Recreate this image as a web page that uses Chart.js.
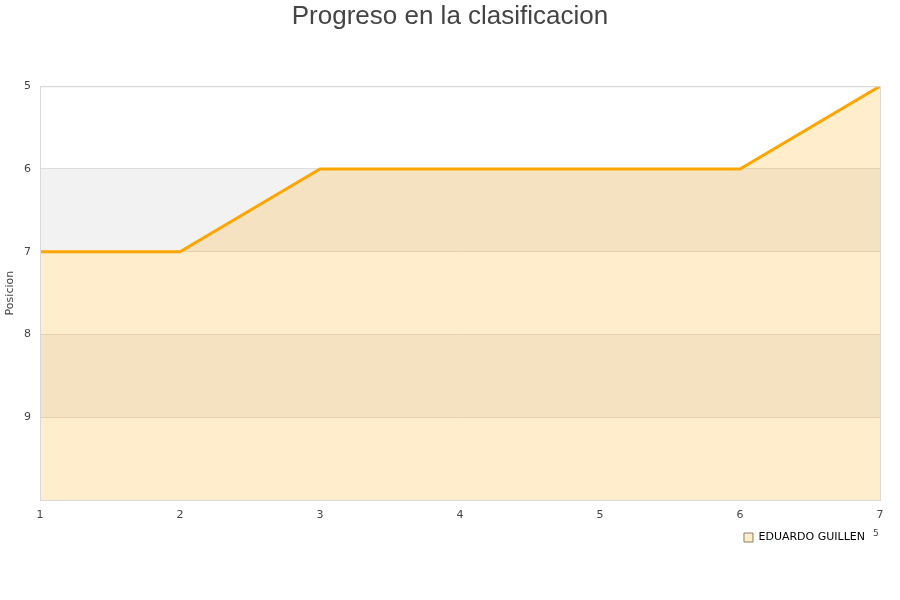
<!DOCTYPE html>
<html>
<head>
<meta charset="utf-8">
<script src="https://cdn.jsdelivr.net/npm/chart.js@4/dist/chart.umd.min.js"></script>
<style>
  html, body { margin: 0; padding: 0; background: #fff; }
  #wrap { width: 900px; height: 600px; }
</style>
</head>
<body>
<div id="wrap"><canvas id="chart" width="900" height="600"></canvas></div>
<script>
const rondas = ['1', '2', '3', '4', '5', '6', '7'];
const posiciones = [7, 7, 6, 6, 6, 6, 5];
const jugador = 'EDUARDO GUILLEN';
const bandas = [[6, 7], [8, 9]];

const bandPlugin = {
    id: 'bands',
    afterLayout(chart) {
        // legend sits a bit left of the canvas edge
        chart.legend.right -= 25;
        chart.legend.left -= 25;
    },
    beforeDraw(chart) {
        const { ctx, chartArea, scales } = chart;
        ctx.save();
        ctx.fillStyle = '#f2f2f2';
        bandas.forEach(([a, b]) => {
            const y1 = scales.y.getPixelForValue(a);
            const y2 = scales.y.getPixelForValue(b);
            ctx.fillRect(chartArea.left, y1, chartArea.right - chartArea.left, y2 - y1);
        });
        ctx.restore();
    },
    afterDraw(chart) {
        const { ctx, chartArea } = chart;
        ctx.save();
        ctx.strokeStyle = '#d9d9d9';
        ctx.lineWidth = 1;
        ctx.strokeRect(chartArea.left + 0.5, chartArea.top + 0.5,
            chartArea.right - chartArea.left, chartArea.bottom - chartArea.top);
        ctx.fillStyle = '#444';
        ctx.font = '9px "DejaVu Sans"';
        ctx.fillText('5', 873, 534);
        ctx.restore();
    }
};

new Chart(document.getElementById('chart').getContext('2d'), {
    type: 'line',
    data: {
        labels: rondas,
        datasets: [{
            label: jugador,
            data: posiciones,
            borderColor: '#FFA500',
            backgroundColor: 'rgba(255,165,0,0.2)',
            borderWidth: 3,
            pointRadius: 0,
            tension: 0,
            fill: 'start'
        }]
    },
    options: {
        responsive: false,
        animation: false,
        layout: { padding: { left: 0, right: 0, top: 0, bottom: 47 } },
        plugins: {
            title: {
                display: true,
                text: 'Progreso en la clasificacion',
                color: '#444',
                font: { family: '"Liberation Sans", Arial, sans-serif', size: 26, weight: 'normal' },
                padding: { top: 1, bottom: 54 }
            },
            legend: {
                position: 'bottom',
                align: 'end',
                labels: {
                    boxWidth: 9,
                    boxHeight: 9,
                    color: '#000',
                    font: { family: '"DejaVu Sans"', size: 11 },
                    generateLabels: chart => chart.data.datasets.map((ds, i) => ({
                        text: ds.label,
                        fillStyle: 'rgba(255,165,0,0.2)',
                        strokeStyle: '#8c7d66',
                        lineWidth: 1,
                        datasetIndex: i
                    }))
                }
            },
            tooltip: { enabled: false }
        },
        scales: {
            x: {
                offset: false,
                grid: { display: false },
                border: { color: '#d9d9d9' },
                ticks: { color: '#444', font: { family: '"DejaVu Sans"', size: 11 }, maxRotation: 0, padding: 1 },
                afterFit: s => { s.height = 22; s.paddingRight = 20; }
            },
            y: {
                reverse: true,
                min: 5,
                max: 10,
                grid: { color: '#dddddd', drawTicks: false },
                border: { color: '#d9d9d9' },
                title: {
                    display: true,
                    text: 'Posicion',
                    color: '#444',
                    font: { family: '"DejaVu Sans"', size: 11 },
                    padding: { top: 4, bottom: 0 }
                },
                ticks: {
                    stepSize: 1,
                    padding: 9,
                    color: '#444',
                    font: { family: '"DejaVu Sans"', size: 11 },
                    callback: v => (v === 10 ? '' : v)
                },
                afterFit: s => { s.width = 40; }
            }
        }
    },
    plugins: [bandPlugin]
});
</script>
</body>
</html>
